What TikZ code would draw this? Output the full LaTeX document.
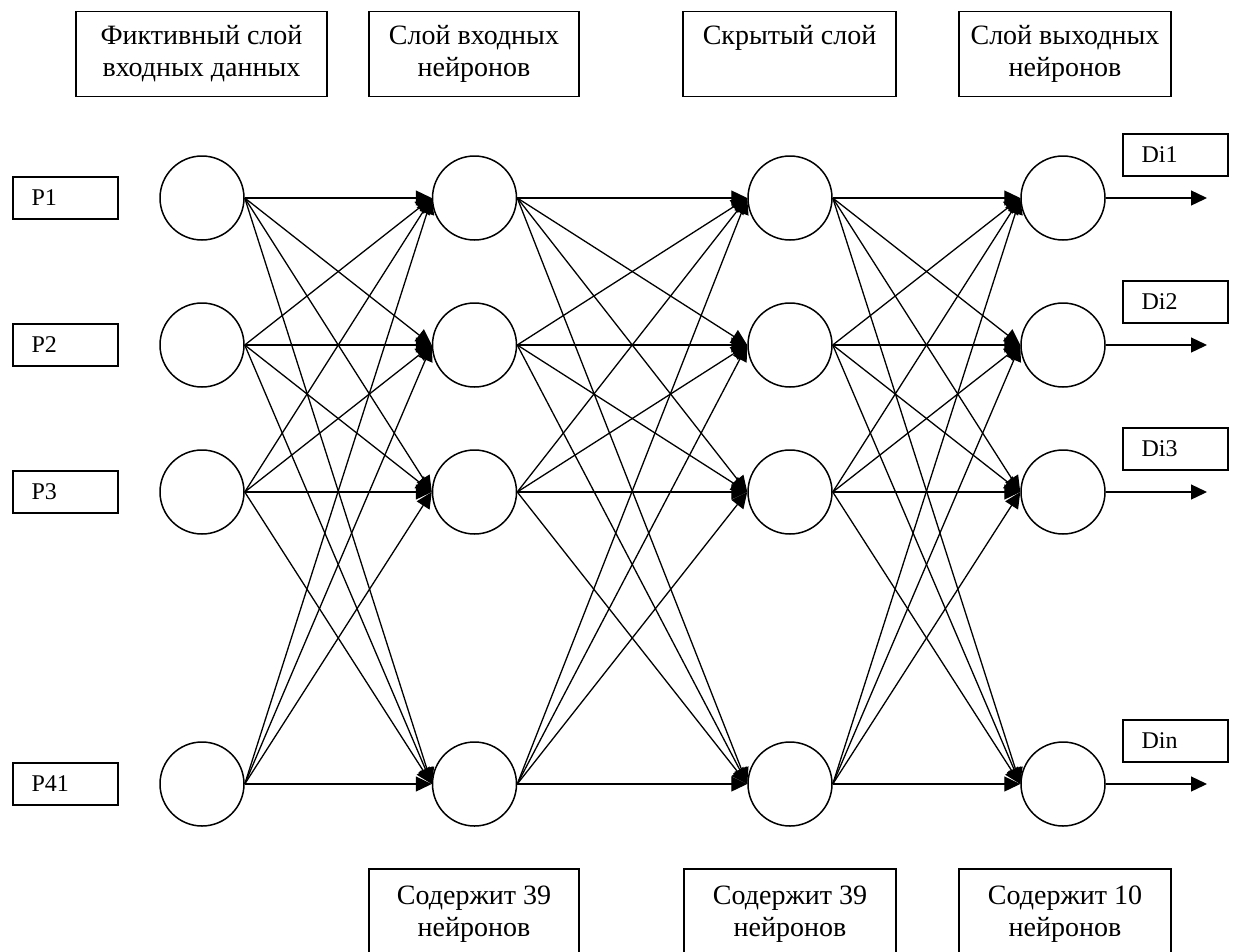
\documentclass[tikz,border=0pt]{standalone}
\usepackage{fontspec}
\setmainfont{Liberation Serif}
\usetikzlibrary{arrows.meta}

\begin{document}
\begin{tikzpicture}[x=1pt, y=-1pt,
        neuron/.style={draw, circle, line width=1.5pt, minimum size=84pt, inner sep=0pt},
        headbox/.style={draw, line width=1.4pt, align=center, inner sep=0pt, font=\fontsize{28}{32}\selectfont},
        sidebox/.style={draw, line width=1.4pt, minimum width=105pt, minimum height=42pt, text width=68pt, inner xsep=18.5pt, align=left, font=\fontsize{24}{28}\selectfont},
        link/.style={line width=1.3pt, -{Triangle[length=16pt, width=15pt]}}]
        \useasboundingbox (0,0) rectangle (1234,951);

        \node[headbox, minimum width=251pt, minimum height=85pt] (hdrF) at (201.5,54) {Фиктивный слой\\входных данных};
        \node[headbox, minimum width=210pt, minimum height=85pt] (hdrA) at (474,54) {Слой входных\\нейронов};
        \node[headbox, minimum width=213pt, minimum height=85pt] (hdrH) at (789.5,54) {Скрытый слой\\\phantom{р}};
        \node[headbox, minimum width=212pt, minimum height=85pt] (hdrO) at (1065,54) {Слой выходных\\нейронов};

        \foreach \i/\y/\inlabel/\outlabel in {1/198/P1/Di1, 2/345/P2/Di2, 3/492/P3/Di3, 4/784/P41/Din} {
            \node[sidebox] (p\i) at (65.5,\y) {\inlabel};
            \node[neuron] (f\i) at (202,\y) {};
            \node[neuron] (a\i) at (474.5,\y) {};
            \node[neuron] (h\i) at (790,\y) {};
            \node[neuron] (o\i) at (1063,\y) {};
            \node[sidebox] (d\i) at (1175.5,\y-43) {\outlabel};
            \coordinate (e\i) at (1207,\y);
        }

        \foreach \src/\dst in {f/a, a/h, h/o}
            \foreach \i in {1,...,4}
                \foreach \j in {1,...,4}
                    \draw[link] (\src\i.east) -- (\dst\j.west);
        \foreach \i in {1,...,4}
            \draw[link] (o\i.east) -- (e\i);

        \node[headbox, minimum width=210pt, minimum height=91pt] (cntA) at (474,914.5) {Содержит 39\\нейронов};
        \node[headbox, minimum width=212pt, minimum height=91pt] (cntH) at (790,914.5) {Содержит 39\\нейронов};
        \node[headbox, minimum width=212pt, minimum height=91pt] (cntO) at (1065,914.5) {Содержит 10\\нейронов};
    \end{tikzpicture}
\end{document}
